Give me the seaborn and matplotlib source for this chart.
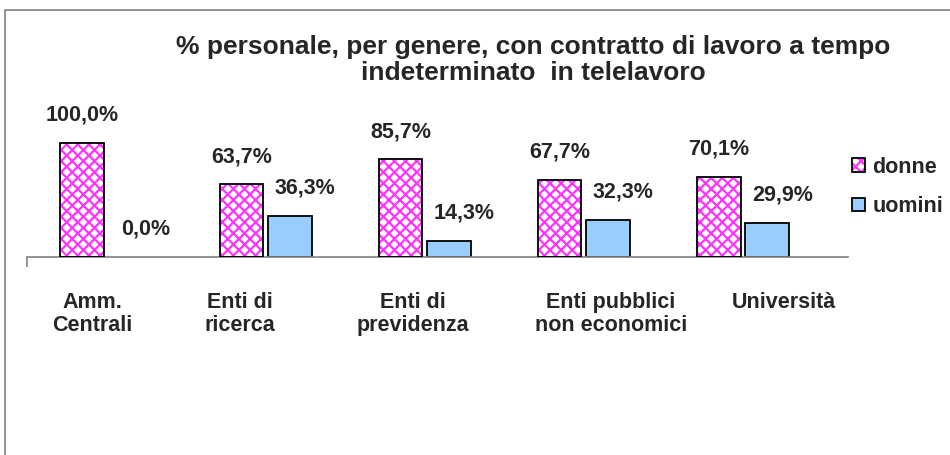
import pandas as pd
import matplotlib
matplotlib.use("Agg")
import matplotlib.pyplot as plt
import matplotlib.transforms as mtransforms
import seaborn as sns
from matplotlib.patches import Patch, Rectangle
from matplotlib.legend_handler import HandlerTuple

# Data
categories = ["Amm.\nCentrali", "Enti di\nricerca", "Enti di\nprevidenza",
              "Enti pubblici\nnon economici", "Università"]
donne = [100.0, 63.7, 85.7, 67.7, 70.1]
uomini = [0.0, 36.3, 14.3, 32.3, 29.9]
series = ["donne", "uomini"]

# horizontal nudges (px) of the category labels, as in the original chart
label_shift = [-14, -26, -12, 27, 41]

df = pd.DataFrame({
    "categoria": categories * 2,
    "genere": ["donne"] * 5 + ["uomini"] * 5,
    "valore": donne + uomini,
})

sns.set_theme(style="white")
plt.rcParams["font.family"] = ["Liberation Sans", "DejaVu Sans"]
plt.rcParams["hatch.linewidth"] = 1.6

pink_edge = "#FF33FF"
blue = "#99CCFF"
fs = 15.5

fig = plt.figure(figsize=(9.5, 4.55), dpi=100)
ax = fig.add_axes([27 / 950, 1 - 257 / 455, (848 - 27) / 950, 157 / 455])

sns.barplot(data=df, x="categoria", y="valore", hue="genere",
            order=categories, hue_order=series,
            palette={"donne": "white", "uomini": blue},
            gap=0.1, width=0.61, saturation=1, legend=False, ax=ax)

# pink hatched bars + black outline on top
for bar in ax.containers[0]:
    bar.set_edgecolor(pink_edge)
    bar.set_hatch("xxx")
    bar.set_linewidth(0)
    ax.add_patch(Rectangle((bar.get_x(), 0), bar.get_width(), bar.get_height(),
                           fill=False, edgecolor="black", linewidth=1.3, zorder=3))
for bar in ax.containers[1]:
    bar.set_edgecolor("black")
    bar.set_linewidth(1.3 if bar.get_height() > 0 else 0)

# value labels
for i, cont in enumerate(ax.containers):
    vals = donne if i == 0 else uomini
    dx = 0 if i == 0 else 11
    for bar, v in zip(cont, vals):
        ax.annotate(f"{v:.1f}%".replace(".", ","),
                    (bar.get_x() + bar.get_width() / 2, bar.get_height()),
                    xytext=(dx, 20), textcoords="offset points",
                    ha="center", va="center", fontsize=fs,
                    fontweight="bold", clip_on=False)

ax.set_xlim(-0.5, 4.66)
ax.set_ylim(0, 137.7)
ax.set_xlabel("")
ax.set_ylabel("")
ax.set_yticks([])
sns.despine(ax=ax, left=True, top=True, right=True)
ax.spines["bottom"].set_color("#808080")
ax.spines["bottom"].set_linewidth(1.2)
ax.tick_params(axis="x", length=0, pad=25)
for lab, sh in zip(ax.get_xticklabels(), label_shift):
    lab.set_fontweight("bold")
    lab.set_fontsize(fs)
    lab.set_verticalalignment("top")
    lab.set_linespacing(1.17)
    lab.set_transform(lab.get_transform() +
                      mtransforms.ScaledTranslation(sh / 100, 0, fig.dpi_scale_trans))
ax.set_xticks([-0.5], minor=True)
ax.tick_params(axis="x", which="minor", length=7, color="#808080", width=1.2,
               bottom=True)

# title
fig.text(533 / 950, 1 - 60 / 455,
         "% personale, per genere, con contratto di lavoro a tempo\nindeterminato  in telelavoro",
         ha="center", va="center", fontsize=19, fontweight="bold", linespacing=1.12)

# legend
h_donne = (Patch(facecolor="white", edgecolor=pink_edge, hatch="xxx", linewidth=0),
           Patch(facecolor="none", edgecolor="black", linewidth=1.3))
h_uomini = Patch(facecolor=blue, edgecolor="black", linewidth=1.3)
fig.legend([h_donne, h_uomini], series,
           handler_map={tuple: HandlerTuple(ndivide=1, pad=0)},
           loc="center left", bbox_to_anchor=(852 / 950, 1 - 187 / 455),
           frameon=False, borderpad=0, borderaxespad=0,
           handlelength=0.6, handleheight=0.6,
           handletextpad=0.35, labelspacing=0.85,
           prop={"weight": "bold", "size": fs})

# chart area border (cut at right and bottom)
fig.add_artist(Rectangle((5 / 950, -0.1), 1.0, 1.1 - 10 / 455,
                         transform=fig.transFigure, fill=False,
                         edgecolor="#808080", linewidth=1.2))

fig.savefig("out.png", dpi=100)
